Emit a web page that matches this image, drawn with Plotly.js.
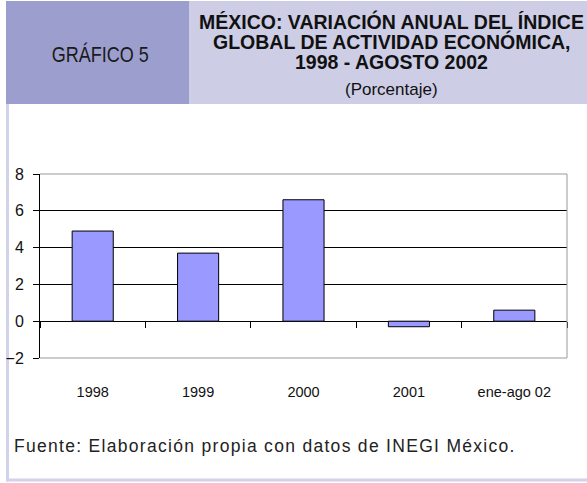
<!DOCTYPE html>
<html>
<head>
<meta charset="utf-8">
<script src="https://cdn.plot.ly/plotly-3.0.1.min.js"></script>
<style>
  html, body { margin: 0; padding: 0; background: #ffffff; }
  #chart { width: 587px; height: 483px; }
</style>
</head>
<body>
<div id="chart"></div>
<script>
// ---- data ----
var categories = ["1998", "1999", "2000", "2001", "ene-ago 02"];
var variacion = [4.9, 3.7, 6.6, -0.3, 0.6];
var yTicks = [-2, 0, 2, 4, 6, 8];
var titleLines = ["MÉXICO: VARIACIÓN ANUAL DEL ÍNDICE", "GLOBAL DE ACTIVIDAD ECONÓMICA,", "1998 - AGOSTO 2002"];
var subtitle = "(Porcentaje)";
var chartLabel = "GRÁFICO 5";
var sourceNote = "Fuente: Elaboración propia con datos de INEGI México.";

// ---- layout geometry ----
var W = 587, H = 483;
var ML = 40, MR = 20, MT = 174, MB = 125;
var PW = W - ML - MR, PH = H - MT - MB;
function px(x) { return (x - ML) / PW; }
function py(y) { return 1 - (y - MT) / PH; }

var sans = "Liberation Sans, Arial, sans-serif";

var trace = {
  type: "bar",
  x: categories,
  y: variacion,
  marker: { color: "#9999FF", line: { color: "#000000", width: 1 } },
  hoverinfo: "x+y"
};

var shapes = [
  { type: "rect", xref: "paper", yref: "paper", x0: px(6), x1: px(189), y0: py(104), y1: py(1),
    fillcolor: "#9C9FCE", line: { width: 0 }, layer: "below" },
  { type: "rect", xref: "paper", yref: "paper", x0: px(189), x1: px(587), y0: py(104), y1: py(1),
    fillcolor: "#CDCDE6", line: { width: 0 }, layer: "below" },
  { type: "rect", xref: "paper", yref: "paper", x0: px(6), x1: px(9), y0: py(481.5), y1: py(104),
    fillcolor: "#D2D2EA", line: { width: 0 }, layer: "below" },
  { type: "rect", xref: "paper", yref: "paper", x0: px(6), x1: px(587), y0: py(481.5), y1: py(478.5),
    fillcolor: "#D2D2EA", line: { width: 0 }, layer: "below" },
  { type: "path", xref: "paper", yref: "paper", path: "M0,1 L1,1 L1,0 L0,0",
    line: { color: "#999999", width: 1 }, fillcolor: "rgba(0,0,0,0)", layer: "above" }
];

var annotations = [
  { text: chartLabel, xref: "paper", yref: "paper", x: px(100.5), y: py(55), xanchor: "center", yanchor: "middle",
    showarrow: false, font: { family: sans, size: 22, color: "#1a1a1a" } }
];
var lineY = [21, 41, 61.5];
for (var i = 0; i < titleLines.length; i++) {
  annotations.push({ text: "<b>" + titleLines[i] + "</b>", xref: "paper", yref: "paper", x: px(391.5), y: py(lineY[i]),
    xanchor: "center", yanchor: "middle", showarrow: false,
    font: { family: sans, size: 19.5, color: "#111111" } });
}
annotations.push({ text: subtitle, xref: "paper", yref: "paper", x: px(391), y: py(89),
  xanchor: "center", yanchor: "middle", showarrow: false,
  font: { family: sans, size: 17, color: "#111111" } });
annotations.push({ text: sourceNote, xref: "paper", yref: "paper", x: px(12), y: py(446), align: "left",
  xanchor: "left", yanchor: "middle", showarrow: false,
  font: { family: sans, size: 17.5, color: "#222222" } });

var layout = {
  width: W, height: H,
  margin: { l: ML, r: MR, t: MT, b: MB, pad: 0 },
  paper_bgcolor: "#ffffff",
  plot_bgcolor: "#ffffff",
  showlegend: false,
  bargap: 0.61,
  xaxis: {
    type: "category",
    range: [-0.5, 4.5],
    anchor: "free",
    position: py(321),
    showline: false,
    showgrid: false,
    zeroline: false,
    ticks: "outside",
    tickson: "boundaries",
    ticklen: 6,
    tickcolor: "#000000",
    tickwidth: 1,
    ticklabelstandoff: 60,
    tickfont: { family: sans, size: 14.5, color: "#111111" }
  },
  yaxis: {
    range: [-2, 8],
    tickvals: yTicks,
    showline: true,
    linecolor: "#000000",
    linewidth: 1,
    ticks: "outside",
    ticklen: 6,
    tickcolor: "#000000",
    showgrid: true,
    gridcolor: "#000000",
    gridwidth: 1,
    zeroline: true,
    zerolinecolor: "#000000",
    zerolinewidth: 1,
    ticklabelstandoff: 6,
    tickfont: { family: sans, size: 16, color: "#111111" }
  },
  shapes: shapes,
  annotations: annotations
};

Plotly.newPlot("chart", [trace], layout, { displayModeBar: false, staticPlot: true }).then(function () {
  var texts = document.querySelectorAll("#chart .annotation-text");
  if (texts[0]) {
    texts[0].style.transformBox = "fill-box";
    texts[0].style.transformOrigin = "center";
    texts[0].style.transform = "scaleX(0.82)";
  }
  var last = texts[texts.length - 1];
  if (last) { last.style.letterSpacing = "1.3px"; }
});
</script>
</body>
</html>
